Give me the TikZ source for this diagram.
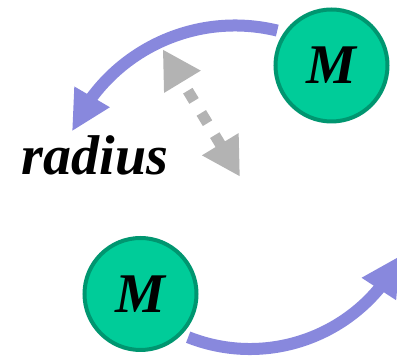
\documentclass[tikz,border=0pt]{standalone}
\usepackage{fontspec}
\setmainfont{Liberation Serif}
\usepackage{tikz}
\usetikzlibrary{arrows.meta, bending}

\definecolor{massfill}{RGB}{0,204,153}
\definecolor{massedge}{RGB}{0,150,112}
\definecolor{orbitcol}{RGB}{136,136,221}
\definecolor{sepgray}{RGB}{179,179,179}
\newcommand{\massfont}{\fontsize{56}{60}\selectfont\bfseries\itshape}

\begin{document}
\begin{tikzpicture}[x=1pt, y=1pt,
    mass/.style={circle, draw=massedge, fill=massfill, line width=4pt, minimum size=112pt, inner sep=0pt, font=\massfont},
    orbit/.style={draw=orbitcol, line width=12pt, -{Triangle[length=40pt, width=38pt]}},
    gap/.style={draw=sepgray, line width=11pt, dash pattern=on 12pt off 14pt, dash phase=13.2pt,
        {Triangle[length=38pt, width=40pt]}-{Triangle[length=38pt, width=40pt]}}]
  \useasboundingbox (0,0) rectangle (397,358);
  % centres of the two orbit arcs
  \coordinate (ctop) at (235,154);
  \coordinate (cbot) at (250,177);
  \draw[orbit] ([shift={(76.3:178.5)}]ctop) arc[start angle=76.3, end angle=156, radius=178.5];
  \draw[orbit] ([shift={(-111.6:168)}]cbot) arc[start angle=-111.6, end angle=-26.3, radius=168];
  % separation
  \coordinate (gtop) at (162.7,308.7);
  \coordinate (gbot) at (240,181.3);
  \draw[gap] (gtop) -- (gbot);
  \node[mass] (m1) at (331.5,292.5) {M};
  \node[mass] (m2) at (140.5,64) {M};
  \node[font=\massfont, anchor=base] (rad) at (95,183) {radius};
\end{tikzpicture}
\end{document}
